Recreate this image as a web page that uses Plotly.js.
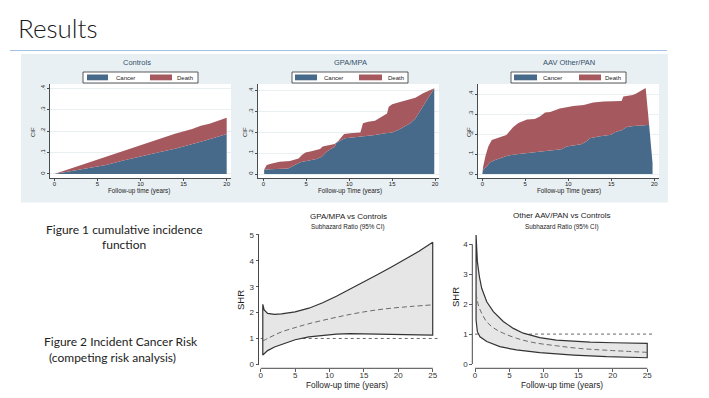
<!DOCTYPE html>
<html><head><meta charset="utf-8">
<script src="https://cdn.plot.ly/plotly-3.0.1.min.js"></script>
<style>html,body{margin:0;padding:0;background:#fff;}#chart{width:709px;height:398px;}</style>
</head><body><div id="chart"></div>
<script>
// ---------- Figure 1: cumulative incidence (stacked: cancer, then cancer+death) ----------
const ctrlT = [0, 2, 4, 6, 8, 10, 12, 14, 16, 17, 18, 20];
const ctrlCancer = [0, 0.013, 0.027, 0.042, 0.063, 0.083, 0.100, 0.118, 0.138, 0.150, 0.162, 0.187];
const ctrlCancerPlusDeath = [0, 0.027, 0.055, 0.083, 0.110, 0.137, 0.163, 0.188, 0.210, 0.225, 0.235, 0.263];

const gpaCancerT = [0.1, 2.9, 3.5, 4.3, 5.0, 6.2, 6.8, 7.4, 8.0, 8.3, 8.5, 9.1, 9.5, 10.1, 11.5, 13.0, 14.2, 15.0, 15.7, 16.5, 17.1, 17.7, 18.4, 19.2, 19.9];
const gpaCancer = [0.022, 0.027, 0.040, 0.056, 0.063, 0.072, 0.083, 0.108, 0.124, 0.130, 0.150, 0.164, 0.172, 0.175, 0.180, 0.188, 0.196, 0.200, 0.212, 0.228, 0.244, 0.268, 0.316, 0.365, 0.413];
const gpaTopT = [0.1, 0.4, 1.0, 1.9, 3.1, 3.5, 4.1, 4.5, 4.9, 5.6, 6.6, 6.9, 7.6, 8.3, 8.7, 9.0, 9.4, 10.1, 11.3, 11.6, 12.2, 13.0, 13.8, 14.4, 14.6, 15.0, 15.7, 16.9, 17.7, 18.6, 19.9];
const gpaCancerPlusDeath = [0.022, 0.043, 0.051, 0.059, 0.063, 0.067, 0.075, 0.092, 0.103, 0.110, 0.120, 0.132, 0.137, 0.145, 0.158, 0.172, 0.193, 0.196, 0.200, 0.244, 0.252, 0.257, 0.276, 0.292, 0.324, 0.336, 0.345, 0.357, 0.368, 0.389, 0.413];

const aavCancerT = [0, 0.1, 0.5, 0.9, 1.5, 2.2, 3.0, 4.0, 5.0, 6.5, 7.3, 8.1, 9.2, 9.8, 10.8, 11.5, 12.1, 12.5, 13.5, 14.3, 15.0, 15.4, 16.2, 16.8, 17.6, 18.9, 19.4, 19.8];
const aavCancer = [0, 0.020, 0.037, 0.059, 0.070, 0.079, 0.092, 0.099, 0.104, 0.109, 0.115, 0.120, 0.124, 0.137, 0.142, 0.149, 0.162, 0.179, 0.187, 0.190, 0.196, 0.209, 0.219, 0.235, 0.240, 0.244, 0.246, 0.054];
const aavTopT = [0, 0.1, 0.4, 0.7, 1.1, 1.9, 2.8, 3.2, 3.6, 4.2, 4.6, 5.2, 6.1, 6.7, 7.3, 7.9, 9.0, 10.6, 11.8, 12.9, 14.1, 16.2, 16.4, 17.5, 17.9, 19.0, 19.4, 19.8];
const aavCancerPlusDeath = [0, 0.037, 0.095, 0.137, 0.170, 0.180, 0.195, 0.215, 0.235, 0.255, 0.262, 0.273, 0.275, 0.287, 0.307, 0.310, 0.328, 0.340, 0.345, 0.357, 0.362, 0.365, 0.387, 0.395, 0.403, 0.430, 0.246, 0.054];

const cifTickVals = [0, 0.1, 0.2, 0.3, 0.4];
const cifTickText = ['0', '.1', '.2', '.3', '.4'];
const yearTicks = [0, 5, 10, 15, 20];

// ---------- Figure 2: subhazard ratios ----------
const gpaUpperT = [0.3, 0.5, 1, 2, 3, 5, 7, 9, 11, 13, 15, 17, 19, 21, 23, 25];
const gpaUpper = [2.32, 2.10, 1.97, 1.93, 1.95, 2.03, 2.17, 2.38, 2.63, 2.90, 3.18, 3.47, 3.76, 4.05, 4.37, 4.72];
const gpaEstT = [0.3, 1, 2, 3, 5, 7, 10, 13, 16, 19, 22, 25];
const gpaEst = [0.90, 1.00, 1.13, 1.25, 1.42, 1.57, 1.76, 1.93, 2.07, 2.17, 2.24, 2.30];
const gpaLowerT = [0.3, 0.6, 1, 2, 3, 5, 7, 9, 11, 13, 15, 18, 21, 25];
const gpaLower = [0.36, 0.45, 0.53, 0.67, 0.78, 0.95, 1.06, 1.12, 1.17, 1.19, 1.19, 1.17, 1.15, 1.13];

const aavUpperT = [0.15, 0.34, 0.63, 0.97, 1.7, 2.66, 4.1, 5.56, 7, 9.4, 11.8, 14.3, 16.7, 20.1, 25];
const aavUpper = [4.31, 3.42, 2.92, 2.53, 2.08, 1.75, 1.42, 1.19, 1.03, 0.88, 0.80, 0.76, 0.73, 0.71, 0.69];
const aavEstT = [0.15, 0.48, 0.97, 1.7, 2.66, 4.1, 6.04, 8.4, 11.8, 15.2, 19.1, 25];
const aavEst = [2.36, 1.97, 1.69, 1.41, 1.21, 1.03, 0.86, 0.72, 0.61, 0.52, 0.46, 0.39];
const aavLowerT = [0.15, 0.34, 0.72, 1.7, 3.6, 6, 9.4, 14.3, 19.1, 25];
const aavLower = [1.47, 1.08, 0.91, 0.75, 0.58, 0.47, 0.38, 0.30, 0.245, 0.21];

const refT = [0, 25.7];
const refV = [1, 1];
const shrTicks = [0, 5, 10, 15, 20, 25];

// ---------- helpers ----------
const W = 709, H = 398;
const fx = p => p / W;
const fy = p => 1 - p / H;
const xdom = (a, b) => [a / W, b / W];
const ydom = (top, bot) => [1 - bot / H, 1 - top / H];

const BLUE = '#476a8b', RED = '#a5595e';
const statFont = 'Liberation Sans, Arial, sans-serif';

const traces = [];
function cifTraces(xa, ya, tC, vC, tT, vT) {
  traces.push({x: tC, y: vC, xaxis: xa, yaxis: ya, type: 'scatter', mode: 'lines',
    line: {width: 0, color: BLUE}, fill: 'tozeroy', fillcolor: BLUE, showlegend: false, hoverinfo: 'skip'});
  traces.push({x: tT, y: vT, xaxis: xa, yaxis: ya, type: 'scatter', mode: 'lines',
    line: {width: 0, color: RED}, fill: 'tonexty', fillcolor: RED, showlegend: false, hoverinfo: 'skip'});
}
cifTraces('x', 'y', ctrlT, ctrlCancer, ctrlT, ctrlCancerPlusDeath);
cifTraces('x2', 'y2', gpaCancerT, gpaCancer, gpaTopT, gpaCancerPlusDeath);
cifTraces('x3', 'y3', aavCancerT, aavCancer, aavTopT, aavCancerPlusDeath);

function shrTraces(xa, ya, tU, vU, tE, vE, tL, vL) {
  traces.push({x: refT, y: refV, xaxis: xa, yaxis: ya, type: 'scatter', mode: 'lines',
    line: {color: '#555', width: 0.9, dash: 'dot'}, showlegend: false, hoverinfo: 'skip'});
  const bx = tU.concat(tL.slice().reverse(), [tU[0]]);
  const by = vU.concat(vL.slice().reverse(), [vU[0]]);
  traces.push({x: bx, y: by, xaxis: xa, yaxis: ya, type: 'scatter', mode: 'lines',
    line: {color: '#333', width: 1.2}, fill: 'toself', fillcolor: '#e6e6e6', showlegend: false, hoverinfo: 'skip'});
  traces.push({x: tE, y: vE, xaxis: xa, yaxis: ya, type: 'scatter', mode: 'lines',
    line: {color: '#6a6a6a', width: 1, dash: '5px,3px', shape: 'spline'}, showlegend: false, hoverinfo: 'skip'});
}
shrTraces('x4', 'y4', gpaUpperT, gpaUpper, gpaEstT, gpaEst, gpaLowerT, gpaLower);
shrTraces('x5', 'y5', aavUpperT, aavUpper, aavEstT, aavEst, aavLowerT, aavLower);

// ---------- axes ----------
function cifX(dom, range, anchor) {
  return {domain: xdom(dom[0], dom[1]), range: range, anchor: anchor, showline: true, linecolor: '#222', linewidth: 0.8,
    ticks: 'outside', ticklen: 2, tickwidth: 0.8, tickcolor: '#222', tickvals: yearTicks, showgrid: false, zeroline: false,
    ticklabelstandoff: -2,
    tickfont: {family: statFont, size: 6, color: '#222'}, fixedrange: true};
}
function cifY(top, bot, range, anchor) {
  return {domain: ydom(top, bot), range: range, anchor: anchor, showline: true, linecolor: '#222', linewidth: 0.8,
    ticks: 'outside', ticklen: 2, tickwidth: 0.8, tickcolor: '#222', tickvals: cifTickVals, ticktext: cifTickText,
    tickangle: -90, showgrid: true, gridcolor: '#e4ecef', gridwidth: 0.8, zeroline: false,
    tickfont: {family: statFont, size: 6, color: '#222'}, fixedrange: true};
}
function shrX(dom, range, posPx) {
  return {domain: xdom(dom[0], dom[1]), range: range, anchor: 'free', position: fy(posPx), showline: false,
    ticks: 'outside', ticklen: 3, tickwidth: 0.8, tickcolor: '#333', tickvals: shrTicks, showgrid: false, zeroline: false,
    ticklabelstandoff: -4,
    tickfont: {family: statFont, size: 8, color: '#333'}, fixedrange: true};
}
function shrY(top, bot, range, posPx, tv) {
  return {domain: ydom(top, bot), range: range, anchor: 'free', position: fx(posPx), showline: false,
    ticks: 'outside', ticklen: 3, tickwidth: 0.8, tickcolor: '#333', tickvals: tv, showgrid: false, zeroline: false,
    tickfont: {family: statFont, size: 8, color: '#333'}, fixedrange: true};
}

// ---------- shapes ----------
const shapes = [
  {type: 'rect', xref: 'paper', yref: 'paper', x0: fx(21), x1: fx(668), y0: fy(54), y1: fy(202.5),
    fillcolor: '#e9f0f3', line: {width: 0}, layer: 'below'},
  {type: 'line', xref: 'paper', yref: 'paper', x0: fx(10), x1: fx(667), y0: fy(50.5), y1: fy(50.5),
    line: {color: '#a6c1e6', width: 1}, layer: 'below'}
];
['x', 'x2', 'x3'].forEach((xa, i) => {
  const ya = ['y', 'y2', 'y3'][i];
  shapes.push({type: 'rect', xref: xa + ' domain', yref: ya + ' domain', x0: 0, x1: 1, y0: 0, y1: 1,
    fillcolor: '#ffffff', line: {width: 0}, layer: 'below'});
});
// legends of the CIF panels
function legend(box, blue, red) {
  shapes.push({type: 'rect', xref: 'paper', yref: 'paper', x0: fx(box[0]), x1: fx(box[1]), y0: fy(83), y1: fy(72),
    fillcolor: '#ffffff', line: {color: '#333', width: 0.8}, layer: 'above'});
  shapes.push({type: 'rect', xref: 'paper', yref: 'paper', x0: fx(blue[0]), x1: fx(blue[1]), y0: fy(80.3), y1: fy(74.5),
    fillcolor: BLUE, line: {width: 0}, layer: 'above'});
  shapes.push({type: 'rect', xref: 'paper', yref: 'paper', x0: fx(red[0]), x1: fx(red[1]), y0: fy(80.3), y1: fy(74.5),
    fillcolor: RED, line: {width: 0}, layer: 'above'});
}
legend([83, 198], [87, 108], [150, 172]);
legend([292, 408], [295, 317], [359, 382]);
legend([511, 626], [514, 537], [579, 601]);
// axis lines of the SHR panels (span the tick range only)
shapes.push({type: 'line', xref: 'paper', yref: 'y4', x0: fx(258.5), x1: fx(258.5), y0: 0, y1: 5, line: {color: '#333', width: 0.9}, layer: 'above'});
shapes.push({type: 'line', xref: 'x4', yref: 'paper', x0: 0, x1: 25, y0: fy(368.3), y1: fy(368.3), line: {color: '#333', width: 0.9}, layer: 'above'});
shapes.push({type: 'line', xref: 'paper', yref: 'y5', x0: fx(472.3), x1: fx(472.3), y0: 0, y1: 4, line: {color: '#333', width: 0.9}, layer: 'above'});
shapes.push({type: 'line', xref: 'x5', yref: 'paper', x0: 0, x1: 25, y0: fy(368.3), y1: fy(368.3), line: {color: '#333', width: 0.9}, layer: 'above'});

// ---------- annotations ----------
const annotations = [];
function ann(text, x, y, size, o) {
  o = o || {};
  annotations.push(Object.assign({text: text, xref: 'paper', yref: 'paper', x: fx(x), y: fy(y), showarrow: false,
    xanchor: o.xanchor || 'center', yanchor: 'middle', textangle: o.angle || 0,
    font: {family: o.family || statFont, size: size, color: o.color || '#222', weight: o.weight || 400}}));
}
ann('Results', 16, 28, 26, {xanchor: 'left', family: 'Lato, Open Sans, sans-serif', color: '#1a1a1a', weight: 300});
// CIF panel titles
const stTitle = '#34506b';
ann('Controls', 137, 62, 7.5, {color: stTitle});
ann('GPA/MPA', 350, 62, 7.5, {color: stTitle});
ann('AAV Other/PAN', 569, 62, 7.5, {color: stTitle});
// legend labels
[[125, 185], [333, 396], [552, 613]].forEach(p => {
  ann('Cancer', p[0], 77.5, 6);
  ann('Death', p[1], 77.5, 6);
});
// CIF axis titles
ann('CIF', 33, 132, 6, {angle: -90});
ann('CIF', 245, 132, 6, {angle: -90});
ann('CIF', 469, 132, 6, {angle: -90});
ann('Follow-up time (years)', 139, 191, 6.3);
ann('Follow-up Time (years)', 350, 191, 6.3);
ann('Follow-up Time (years)', 569, 191, 6.3);
// SHR panel titles
ann('GPA/MPA vs Controls', 348, 216, 8);
ann('Subhazard Ratio (95% CI)', 348, 226.5, 6.3);
ann('Other AAV/PAN vs Controls', 562, 215.5, 8);
ann('Subhazard Ratio (95% CI)', 562, 226.5, 6.3);
ann('SHR', 240, 300, 9.5, {angle: -90});
ann('SHR', 455, 297, 9.5, {angle: -90});
ann('Follow-up time (years)', 347, 385, 8.3);
ann('Follow-up time (years)', 562, 385, 8.3);
// slide captions
const cap = 'Lato, Open Sans, sans-serif';
ann('Figure 1 cumulative incidence', 124, 229, 12, {family: cap});
ann('function', 124, 245, 12, {family: cap});
ann('Figure 2 Incident Cancer Risk', 121, 341, 12, {family: cap});
ann('(competing risk analysis)', 112, 357, 12, {family: cap});

const layout = {
  width: W, height: H, margin: {l: 0, r: 0, t: 0, b: 0},
  paper_bgcolor: '#ffffff', plot_bgcolor: 'rgba(0,0,0,0)', showlegend: false, hovermode: false,
  xaxis: cifX([50, 231], [-0.5, 20.5], 'y'),
  yaxis: cifY(84, 178, [-0.0187, 0.42], 'x'),
  xaxis2: cifX([258, 439], [-0.617, 20.45], 'y2'),
  yaxis2: cifY(84, 178, [-0.0193, 0.4337], 'x2'),
  xaxis3: cifX([478, 659], [-0.5, 20.55], 'y3'),
  yaxis3: cifY(84, 178, [-0.02, 0.45], 'x3'),
  xaxis4: shrX([256.6, 439.6], [-0.6, 26], 368.3),
  yaxis4: shrY(232.4, 369.5, [-0.2, 5.1], 258.5, [0, 1, 2, 3, 4, 5]),
  xaxis5: shrX([470.9, 655.5], [-0.6, 26.2], 368.3),
  yaxis5: shrY(230.8, 370, [-0.2, 4.45], 472.3, [0, 1, 2, 3, 4]),
  shapes: shapes,
  annotations: annotations
};
Plotly.newPlot('chart', traces, layout, {staticPlot: true, displayModeBar: false});
</script></body></html>
